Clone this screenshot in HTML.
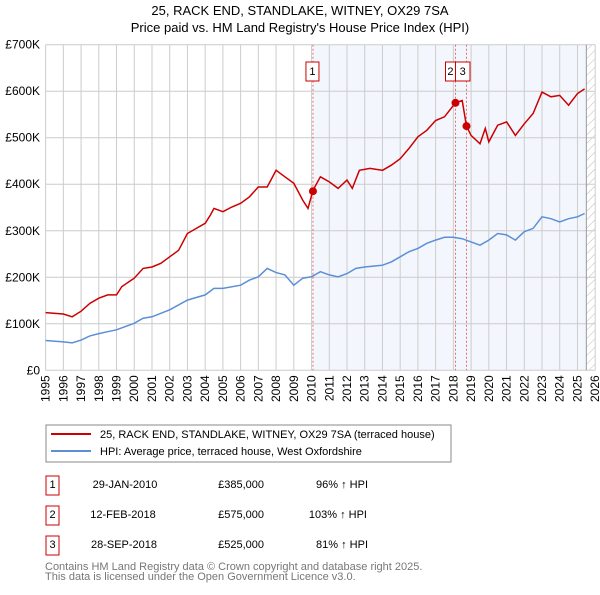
<!DOCTYPE html>
<html><head><meta charset="utf-8"><style>
body{margin:0;background:#fff;width:600px;height:590px;overflow:hidden;font-family:"Liberation Sans","DejaVu Sans",sans-serif}
svg text{font-family:"Liberation Sans","DejaVu Sans",sans-serif}
</style></head><body>
<svg id="c" width="600" height="590" xmlns="http://www.w3.org/2000/svg">
<text x="300" y="15" text-anchor="middle" font-size="13">25, RACK END, STANDLAKE, WITNEY, OX29 7SA</text>
<text x="300" y="32" text-anchor="middle" font-size="13">Price paid vs. HM Land Registry's House Price Index (HPI)</text>
<g id="plot"></g>
<rect x="46" y="425" width="405" height="37" fill="#fff" stroke="#888"/>
<line x1="51" y1="434" x2="91" y2="434" stroke="#cc0000" stroke-width="2"/>
<text x="100" y="438" font-size="11">25, RACK END, STANDLAKE, WITNEY, OX29 7SA (terraced house)</text>
<line x1="51" y1="451" x2="91" y2="451" stroke="#5b8fd6" stroke-width="2"/>
<text x="100" y="455" font-size="11">HPI: Average price, terraced house, West Oxfordshire</text>
<g font-size="11">
<rect x="46" y="476" width="13" height="19" fill="none" stroke="#cc0000"/><text x="52.5" y="488" text-anchor="middle">1</text>
<text x="125" y="488" text-anchor="middle">29-JAN-2010</text><text x="264" y="488" text-anchor="end">£385,000</text><text x="368" y="488" text-anchor="end">96% ↑ HPI</text>
<rect x="46" y="506" width="13" height="19" fill="none" stroke="#cc0000"/><text x="52.5" y="518" text-anchor="middle">2</text>
<text x="123" y="518" text-anchor="middle">12-FEB-2018</text><text x="264" y="518" text-anchor="end">£575,000</text><text x="367" y="518" text-anchor="end">103% ↑ HPI</text>
<rect x="46" y="536" width="13" height="19" fill="none" stroke="#cc0000"/><text x="52.5" y="548" text-anchor="middle">3</text>
<text x="124" y="548" text-anchor="middle">28-SEP-2018</text><text x="264" y="548" text-anchor="end">£525,000</text><text x="368" y="548" text-anchor="end">81% ↑ HPI</text>
</g>
<text x="45" y="570" font-size="11" fill="#777">Contains HM Land Registry data © Crown copyright and database right 2025.</text>
<text x="45" y="580" font-size="11" fill="#777">This data is licensed under the Open Government Licence v3.0.</text>
</svg>
<script>
const redYears=[1995,1996,1996.5,1997,1997.5,1998,1998.5,1999,1999.3,2000,2000.5,2001,2001.5,2002,2002.5,2003,2003.5,2004,2004.3,2004.5,2005,2005.5,2006,2006.5,2007,2007.5,2008,2008.5,2009,2009.5,2009.8,2010.08,2010.5,2011,2011.5,2012,2012.3,2012.7,2013.3,2014,2014.5,2015,2015.5,2016,2016.5,2017,2017.5,2018.12,2018.5,2018.74,2019,2019.5,2019.8,2020,2020.5,2021,2021.5,2022,2022.5,2023,2023.5,2024,2024.5,2025,2025.4];
const redValues=[124,121,115,127,144,155,162,162,180,198,219,222,230,244,258,294,305,316,334,348,341,351,359,373,394,394,430,416,402,366,348,387,416,405,391,409,391,430,434,430,441,455,477,502,516,537,545,575,580,525,505,487,520,491,527,534,505,530,552,598,588,591,570,595,605];
const hpiYears=[1995,1996,1996.5,1997,1997.5,1998,1998.5,1999,2000,2000.5,2001,2002,2003,2004,2004.5,2005,2006,2006.5,2007,2007.5,2008,2008.5,2009,2009.5,2010,2010.5,2011,2011.5,2012,2012.5,2013,2014,2014.5,2015,2015.5,2016,2016.5,2017,2017.5,2018,2018.5,2019,2019.5,2020,2020.5,2021,2021.5,2022,2022.5,2023,2023.5,2024,2024.5,2025,2025.4];
const hpiValues=[64,61,59,65,74,79,83,87,101,112,115,130,151,162,176,176,183,194,201,219,210,205,183,198,201,212,205,201,208,219,222,226,233,244,255,262,273,280,286,286,283,276,269,280,294,291,280,298,305,330,326,319,326,330,337];
const saleYears=[2010.08,2018.12,2018.74];
const saleValues=[385,575,525];
const saleLabels=["1","2","3"];
const yTicks=[0,100,200,300,400,500,600,700];
const yTickLabels=["£0","£100K","£200K","£300K","£400K","£500K","£600K","£700K"];
const xTicks=[1995,1996,1997,1998,1999,2000,2001,2002,2003,2004,2005,2006,2007,2008,2009,2010,2011,2012,2013,2014,2015,2016,2017,2018,2019,2020,2021,2022,2023,2024,2025,2026];
const X0=45.6,X1=595.2,Y0=370.3,Y1=44.7;
const xs=y=>X0+(y-1995)/31*(X1-X0);
const ys=v=>Y0-v/700*(Y0-Y1);
const NS="http://www.w3.org/2000/svg";
const g=document.getElementById('plot');
function mk(t,a){const e=document.createElementNS(NS,t);for(const k in a)e.setAttribute(k,a[k]);g.appendChild(e);return e;}
let e=mk('rect',{x:xs(2010.08),y:Y1,width:xs(2025.5)-xs(2010.08),height:Y0-Y1,fill:'#eef3fc',opacity:0.7});


const defs=document.createElementNS(NS,'defs');defs.innerHTML='<pattern id="h" width="6" height="6" patternUnits="userSpaceOnUse" patternTransform="rotate(45)"><line x1="0" y1="0" x2="0" y2="6" stroke="#bbb" stroke-width="1"/></pattern>';g.appendChild(defs);
e=mk('rect',{x:xs(2025.5),y:Y1,width:X1-xs(2025.5),height:Y0-Y1,fill:'url(#h)'});


xTicks.forEach(t=>{const l=mk('line',{x1:xs(t),x2:xs(t),y1:Y1,y2:Y0,stroke:'#ccc'});


const tx=mk('text',{x:0,y:0,'font-size':12,'text-anchor':'end',transform:`translate(${xs(t)+4},${Y0+5}) rotate(-90)`});tx.textContent=t;

});
yTicks.forEach((t,i)=>{const l=mk('line',{x1:X0,x2:X1,y1:ys(t),y2:ys(t),stroke:'#ccc'});


const tx=mk('text',{x:40,y:ys(t)+4,'font-size':12,'text-anchor':'end'});tx.textContent=yTickLabels[i];

});
e=mk('line',{x1:xs(2025.5),x2:xs(2025.5),y1:Y1,y2:Y0,stroke:'#999','stroke-width':1});


saleYears.forEach((y,i)=>{const l=mk('line',{x1:xs(y),x2:xs(y),y1:Y1,y2:Y0,stroke:'#e05050','stroke-dasharray':'2,2','stroke-width':0.8});

});
function path(xa,va,c,n){const d=xa.map((y,i)=>(i?'L':'M')+xs(y).toFixed(1)+','+ys(va[i]).toFixed(1)).join('');const p=mk('path',{d:d,fill:'none',stroke:c,'stroke-width':1.5});

}
path(hpiYears,hpiValues,'#5b8fd6','hpi-line');
path(redYears,redValues,'#cc0000','property-price-line');
saleYears.forEach((y,i)=>{const c=mk('circle',{cx:xs(y),cy:ys(saleValues[i]),r:4,fill:'#cc0000'});

});
const lx=[xs(saleYears[0])-7,xs(saleYears[1])-13,xs(saleYears[2])-10];
saleYears.forEach((y,i)=>{const bx=i==1?xs(y)-10:(i==2?xs(y)-10:xs(y)-7);const x0=i==2?xs(saleYears[1]):bx;const w=i==2?xs(y)+3.5-xs(saleYears[1]):(i==1?10:13);
const r=mk('rect',{x:x0,y:62,width:w,height:19,fill:'#fff',stroke:'#cc0000'});


const t=mk('text',{x:x0+w/2,y:75,'font-size':11,'text-anchor':'middle'});t.textContent=saleLabels[i];

});
</script>
</body></html>
